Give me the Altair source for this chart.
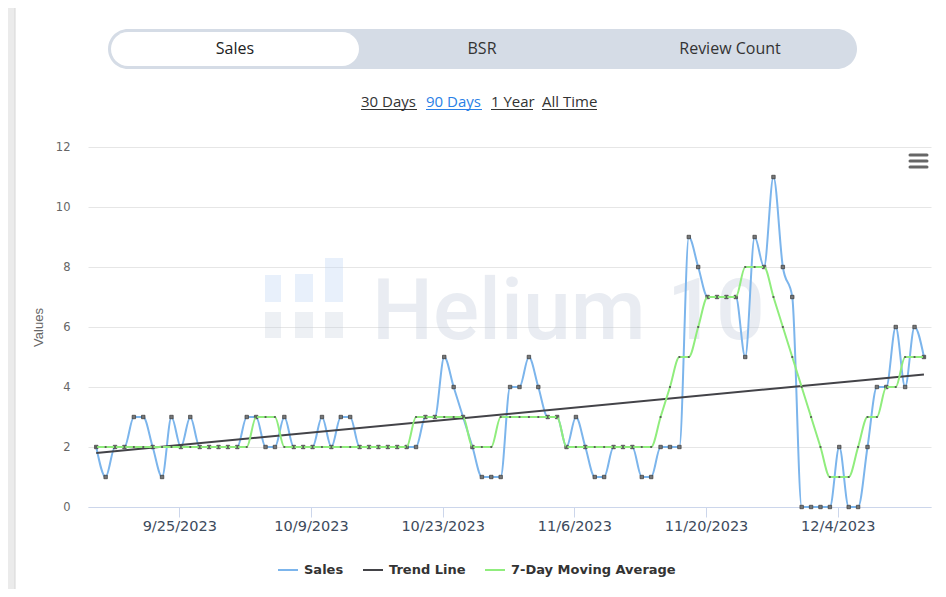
import altair as alt
import pandas as pd

# ---------------- data ----------------
dates = [d.strftime("%Y-%m-%dT%H:%M:%S")
         for d in pd.date_range("2023-09-16 04:00", periods=89, freq="D")]

sales = [2, 1, 2, 2, 3, 3, 2, 1, 3, 2,
         3, 2, 2, 2, 2, 2, 3, 3, 2, 2,
         3, 2, 2, 2, 3, 2, 3, 3, 2, 2,
         2, 2, 2, 2, 2, 3, 3, 5, 4, 3,
         2, 1, 1, 1, 4, 4, 5, 4, 3, 3,
         2, 3, 2, 1, 1, 2, 2, 2, 1, 1,
         2, 2, 2, 9, 8, 7, 7, 7, 7, 5,
         9, 8, 11, 8, 7, 0, 0, 0, 0, 2,
         0, 0, 2, 4, 4, 6, 4, 6, 5]

ma7 = [2, 2, 2, 2, 2, 2, 2, 2, 2, 2,
       2, 2, 2, 2, 2, 2, 2, 3, 3, 3,
       2, 2, 2, 2, 2, 2, 2, 2, 2, 2,
       2, 2, 2, 2, 3, 3, 3, 3, 3, 3,
       2, 2, 2, 3, 3, 3, 3, 3, 3, 3,
       2, 2, 2, 2, 2, 2, 2, 2, 2, 2,
       3, 4, 5, 5, 6, 7, 7, 7, 7, 8,
       8, 8, 7, 6, 5, 4, 3, 2, 1, 1,
       1, 2, 3, 3, 4, 4, 5, 5, 5]

trend_values = [1.8, 4.42]

series_names = ["Sales", "Trend Line", "7-Day Moving Average"]
series_colors = ["#7cb5ec", "#434348", "#90ed7d"]
tick_dates = [(2023, 9, 25), (2023, 10, 9), (2023, 10, 23),
              (2023, 11, 6), (2023, 11, 20), (2023, 12, 4)]
y_ticks = [0, 2, 4, 6, 8, 10, 12]

df_sales = pd.DataFrame({"date": dates, "value": sales, "series": "Sales"})
df_ma = pd.DataFrame({"date": dates, "value": ma7, "series": "7-Day Moving Average"})
df_trend = pd.DataFrame({"date": [dates[0], dates[-1]], "value": trend_values,
                         "series": "Trend Line"})

# ---------------- encodings ----------------
X = alt.X(
    "date:T",
    scale=alt.Scale(domain=[alt.DateTime(year=2023, month=9, date=15, hours=7),
                            alt.DateTime(year=2023, month=12, date=13, hours=22)]),
    axis=alt.Axis(
        values=[alt.DateTime(year=y, month=m, date=d) for (y, m, d) in tick_dates],
        format="%-m/%-d/%Y", title=None, grid=False,
        domainColor="#ccd6eb", domainWidth=1,
        tickColor="#ccd6eb", tickSize=10, tickWidth=1,
        labelFont="DejaVu Sans", labelFontSize=14.5, labelColor="#3d4a5c",
        labelPadding=2, labelFlush=False, labelOverlap=False,
    ),
)
Y = alt.Y(
    "value:Q",
    scale=alt.Scale(domain=[0, 12], nice=False),
    axis=alt.Axis(
        values=y_ticks, title="Values", grid=True, gridColor="#e6e6e6",
        domain=False, ticks=False,
        labelFont="DejaVu Sans", labelFontSize=11.5, labelColor="#666666",
        labelPadding=18,
        titleFont="Liberation Sans", titleFontSize=13, titleFontWeight="normal",
        titleColor="#666666", titleX=-43, titleY=180,
    ),
)
C = alt.Color(
    "series:N",
    scale=alt.Scale(domain=series_names, range=series_colors),
    legend=alt.Legend(
        orient="none", legendX=189, legendY=412, direction="horizontal",
        title=None, symbolType="stroke", symbolSize=400, symbolStrokeWidth=2,
        labelFont="DejaVu Sans", labelFontSize=13, labelFontWeight="bold",
        labelColor="#333333", columnPadding=15, labelOffset=5, padding=0,
        labelLimit=400,
    ),
)

one = alt.Data(values=[{}])


def rect(x1, x2, y1, y2, fill, opacity=1.0, radius=0):
    return alt.Chart(one).mark_rect(fill=fill, opacity=opacity, cornerRadius=radius).encode(
        x=alt.value(x1), x2=alt.value(x2), y=alt.value(y1), y2=alt.value(y2))


def text(s, x, y, size, color, font="Open Sans", align="center",
         baseline="middle", weight="normal", opacity=1.0):
    return alt.Chart(one).mark_text(
        text=s, fontSize=size, color=color, font=font, align=align,
        baseline=baseline, fontWeight=weight, opacity=opacity).encode(
        x=alt.value(x), y=alt.value(y))


def hline(x1, x2, y, color, width=1, cap="butt"):
    return alt.Chart(one).mark_rule(color=color, strokeWidth=width, strokeCap=cap).encode(
        x=alt.value(x1), x2=alt.value(x2), y=alt.value(y))


def vline(x, y1, y2, color, width=1):
    return alt.Chart(one).mark_rule(color=color, strokeWidth=width).encode(
        x=alt.value(x), y=alt.value(y1), y2=alt.value(y2))


# ---------------- page chrome ----------------
chrome_back = [
    rect(-80, -73, -139, 442, "#ebebeb"),
    vline(-73, -139, 442, "#d6d6d6"),
    # segmented control
    rect(20, 769, -118, -78, "#d5dce6", radius=20),
    rect(23, 271, -115, -81, "#ffffff", radius=17),
    # watermark logo + wordmark
    rect(177, 193, 165, 191, "#c3ccd9", opacity=0.3),
    rect(207, 225, 165, 191, "#c3ccd9", opacity=0.3),
    rect(237, 255, 165, 191, "#c3ccd9", opacity=0.3),
    rect(177, 193, 128, 155, "#bcd5f3", opacity=0.35),
    rect(207, 225, 127, 155, "#bcd5f3", opacity=0.35),
    rect(237, 255, 111, 155, "#bcd5f3", opacity=0.35),
    text("Helium 10", 284, 192, 86, "#b7c3d5", font="Roboto", align="left",
         baseline="alphabetic", weight=500, opacity=0.3),
]

chrome_front = [
    text("Sales", 147, -98, 16, "#222222"),
    text("BSR", 394, -98, 16, "#333333"),
    text("Review Count", 642, -98, 16, "#333333"),
    text("30 Days", 273, -40, 15, "#333333", align="left", baseline="alphabetic"),
    text("90 Days", 338, -40, 15, "#2a7fe6", align="left", baseline="alphabetic"),
    text("1 Year", 403, -40, 15, "#333333", align="left", baseline="alphabetic"),
    text("All Time", 454, -40, 15, "#333333", align="left", baseline="alphabetic"),
    hline(273, 329, -37.5, "#333333"),
    hline(338, 394, -37.5, "#2a7fe6"),
    hline(403, 445, -37.5, "#333333"),
    hline(454, 509, -37.5, "#333333"),
    # hamburger menu
    hline(822, 839, 8, "#666666", 3, "round"),
    hline(822, 839, 14, "#666666", 3, "round"),
    hline(822, 839, 20, "#666666", 3, "round"),
]

# ---------------- series ----------------
sales_line = alt.Chart(df_sales).mark_line(strokeWidth=2, interpolate="monotone").encode(
    x=X, y=Y, color=C)
sales_pts = alt.Chart(df_sales).mark_point(
    shape="square", filled=True, size=12, color="#777777", stroke="#3a3a3a",
    strokeWidth=0.7, opacity=1).encode(x=X, y=Y)
trend_line = alt.Chart(df_trend).mark_line(strokeWidth=2).encode(x=X, y=Y, color=C)
ma_line = alt.Chart(df_ma).mark_line(strokeWidth=2, interpolate="monotone").encode(
    x=X, y=Y, color=C)
ma_pts = alt.Chart(df_ma).mark_point(
    shape="circle", filled=True, size=5, color="#555555", opacity=1).encode(x=X, y=Y)

chart = alt.layer(
    *chrome_back, sales_line, sales_pts, trend_line, ma_line, ma_pts, *chrome_front
).properties(
    width=843, height=360,
    padding={"left": 80, "top": 139, "right": 7, "bottom": 82},
    autosize="none", background="white",
).configure_view(stroke=None)

chart.save("out.html", embed_options={"renderer": "svg", "actions": False})
